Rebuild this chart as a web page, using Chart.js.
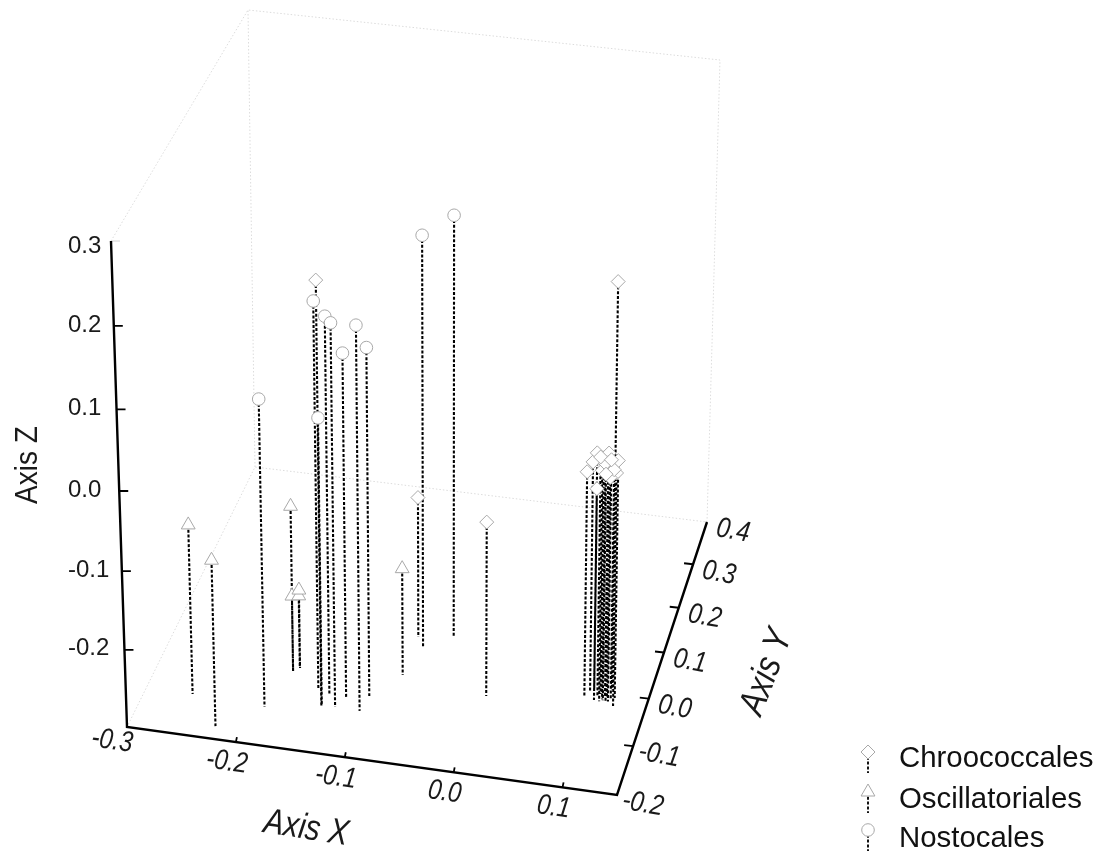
<!DOCTYPE html>
<html><head><meta charset="utf-8">
<style>html,body{margin:0;padding:0;background:#fff}canvas{display:block}</style>
<script src="https://cdn.jsdelivr.net/npm/chart.js@4"></script>
</head><body><canvas id="c" width="1099" height="852"></canvas>
<script>
// ---- data (Axis X, Axis Y, Axis Z) ----
const seriesNames = ['Chroococcales','Oscillatoriales','Nostocales'];
const chrooX = [-0.139,-0.079,0.003,0.114,0.091,0.095,0.101,0.105,0.112,0.110,0.119,0.106,0.120,0.112,0.098,0.116,0.108,0.103,0.114,0.109];
const chrooY = [-0.107,0.065,-0.039,0.008,-0.012,-0.003,-0.018,-0.004,-0.019,-0.009,-0.008,-0.019,-0.025,-0.010,0.003,-0.013,-0.014,-0.010,-0.017,-0.016];
const chrooZ = [0.230,-0.118,-0.078,0.207,-0.016,-0.008,0.012,-0.001,0.014,-0.003,0.000,-0.008,-0.006,-0.021,-0.044,-0.009,-0.002,0.003,0.005,-0.014];
const oscilX = [-0.257,-0.224,-0.178,-0.178,-0.174,-0.173,-0.079];
const oscilY = [-0.116,-0.174,-0.041,-0.041,-0.029,-0.033,-0.019];
const oscilZ = [-0.082,-0.088,-0.087,-0.202,-0.208,-0.198,-0.162];
const nostoX = [-0.189,-0.149,-0.137,-0.127,-0.121,-0.104,-0.101,-0.140,-0.071,-0.047];
const nostoY = [-0.122,-0.069,-0.078,-0.103,-0.080,-0.104,-0.071,-0.100,0.045,0.075];
const nostoZ = [0.088,0.185,0.173,0.179,0.132,0.180,0.137,0.061,0.219,0.232];
const xTicks = [-0.3,-0.2,-0.1,0.0,0.1];
const yTicks = [-0.2,-0.1,0.0,0.1,0.2,0.3,0.4];
const zTicks = [-0.2,-0.1,0.0,0.1,0.2,0.3];
const xRange = [-0.3,0.15], yRange = [-0.2,0.4], zRange = [-0.3,0.3];

// ---- view of the box on the page: 3-D projection frame ----
const cornerA=[127,727],cornerB=[617,795],cornerC=[707,522],cornerD=[255,467];
const cornerA2=[111,241],cornerB2=[624,291],cornerC2=[720,60],cornerD2=[248,10];
const lerp=(p,q,f)=>[p[0]+(q[0]-p[0])*f,p[1]+(q[1]-p[1])*f];
const warp=(u,k)=>u*(1+k)/(1+k*u);
function project(x,y,z){
  const s=(x-xRange[0])/(xRange[1]-xRange[0]);
  const t=warp((y-yRange[0])/(yRange[1]-yRange[0]),.092);
  const w=warp((z-zRange[0])/(zRange[1]-zRange[0]),-.056);
  const f=lerp(lerp(cornerA,cornerB,s),lerp(cornerD,cornerC,s),t);
  const c=lerp(lerp(cornerA2,cornerB2,s),lerp(cornerD2,cornerC2,s),t);
  return lerp(f,c,w);
}
const pt=p=>({x:p[0],y:p[1]});
const GAP={x:null,y:null};
const P3=(x,y,z)=>pt(project(x,y,z));
const xMin=xRange[0],xMax=xRange[1],yMin=yRange[0],yMax=yRange[1],zMin=zRange[0],zMax=zRange[1];

function stems(X,Y,Z){const d=[];X.forEach((v,i)=>{d.push(P3(v,Y[i],Z[i]),P3(v,Y[i],zMin),GAP);});return d;}
function marks(X,Y,Z){return X.map((v,i)=>P3(v,Y[i],Z[i]));}
function lineSet(data,color,width,dash,order){return {type:'scatter',showLine:true,data,borderColor:color,borderWidth:width,borderDash:dash,pointRadius:0,pointHoverRadius:0,spanGaps:false,order,clip:false,tension:0};}
function markSet(data,style,r,order){return {type:'scatter',showLine:false,data,pointStyle:style,pointRadius:r,pointBackgroundColor:'#ffffff',pointBorderColor:'#a8a8a8',pointBorderWidth:1,order,clip:false};}

const wire=[P3(xMin,yMin,zMax),P3(xMin,yMax,zMax),P3(xMax,yMax,zMax),P3(xMax,yMax,zMin),P3(xMin,yMax,zMin),P3(xMin,yMin,zMin),GAP,P3(xMin,yMax,zMin),P3(xMin,yMax,zMax)];
const axes=[P3(xMin,yMin,zMax),P3(xMin,yMin,zMin),P3(xMax,yMin,zMin),P3(xMax,yMax,zMin)];
const tickMarks=[];
function off(p,dx,dy){return {x:p.x+dx,y:p.y+dy};}
xTicks.slice(1).forEach(v=>{const p=P3(v,yMin,zMin);tickMarks.push(p,off(p,1,-5),GAP);});
yTicks.slice(1,-1).forEach(v=>{const p=P3(xMax,v,zMin);tickMarks.push(p,off(p,-9,-1),GAP);});
zTicks.slice(0,-1).forEach(v=>{const p=P3(xMin,yMin,v);tickMarks.push(p,off(p,9,0),GAP);});
const topStub=[P3(xMin,yMin,zMax),off(P3(xMin,yMin,zMax),9,0)];

const DASH=[3,1.8];
const textPlugin={id:'text3d',afterDraw(chart){
  const g=chart.ctx,sx=chart.scales.x,sy=chart.scales.y;
  const at=(p)=>[sx.getPixelForValue(p.x),sy.getPixelForValue(p.y)];
  const put=(txt,p,dx,dy,deg,font,stretch)=>{const a=at(p);g.save();g.translate(a[0]+dx,a[1]+dy);g.rotate(deg*Math.PI/180);g.scale(1,stretch||1);g.font=font;g.fillStyle='#1a1a1a';g.textAlign='center';g.textBaseline='middle';g.fillText(txt,0,0);g.restore();};
  const F="'Liberation Sans',Arial,sans-serif";
  const it='italic 24px '+F, up='24px '+F;
  xTicks.forEach(v=>{const first=v===xMin;put(v.toFixed(1),P3(v,yMin,zMin),first?-15:-9,first?14:20,8,it,1.2);});
  yTicks.forEach(v=>{put(v.toFixed(1),P3(xMax,v,zMin),26,9,10,it,1.2);});
  zTicks.forEach(v=>{const a=at(P3(xMin,yMin,v));g.save();g.font=up;g.fillStyle='#1a1a1a';g.textAlign='left';g.textBaseline='middle';g.fillText(v.toFixed(1),68,a[1]+(v===zMax?5:-1));g.restore();});
  put('Axis X',P3(-0.13,yMin,zMin),-6,76,9,'italic 30px '+F,1.2);
  put('Axis Y',P3(xMax,0.02,zMin),115,-17,-69,'italic 31px '+F,1.2);
  put('Axis Z',P3(xMin,yMin,0.0),-91,-26,-90,'28px '+F,1.15);
  // legend
  const rows=[[752,'rectRot',7,759],[792,'triangle',8,800],[830,'circle',6.3,839]];
  seriesNames.forEach((n,i)=>{const r=rows[i];
    g.save();g.strokeStyle='#111';g.lineWidth=2;g.setLineDash(DASH);g.beginPath();g.moveTo(868,r[0]);g.lineTo(868,r[0]+21);g.stroke();g.restore();
    g.save();g.setLineDash([]);g.fillStyle='#fff';g.strokeStyle='#a8a8a8';g.lineWidth=1;
    Chart.helpers.drawPoint(g,{pointStyle:r[1],radius:r[2],borderWidth:1,rotation:0},868,r[0]);g.restore();
    g.save();g.font='29.4px '+F;g.fillStyle='#111';g.textBaseline='middle';g.textAlign='left';g.fillText(n,899,r[3]);g.restore();
  });
}};

new Chart(document.getElementById('c'),{
  type:'scatter',
  data:{datasets:[
    lineSet(wire,'#dcdcdc',1,[1.5,2],20),
    lineSet(topStub,'#d0d0d0',1,[],20),
    lineSet(axes,'#000000',2.4,[],6),
    lineSet(tickMarks,'#000000',1.8,[],6),
    lineSet(stems(chrooX,chrooY,chrooZ),'#000000',2.1,DASH,5),
    lineSet(stems(oscilX,oscilY,oscilZ),'#000000',2.1,DASH,5),
    lineSet(stems(nostoX,nostoY,nostoZ),'#000000',2.1,DASH,5),
    markSet(marks(chrooX,chrooY,chrooZ),'rectRot',7,1),
    markSet(marks(oscilX,oscilY,oscilZ),'triangle',8,1),
    markSet(marks(nostoX,nostoY,nostoZ),'circle',6.3,1)
  ]},
  options:{
    responsive:false,animation:false,devicePixelRatio:1,
    layout:{padding:0,autoPadding:false},
    plugins:{legend:{display:false},tooltip:{enabled:false},title:{display:false}},
    scales:{
      x:{type:'linear',min:0,max:1099,display:false},
      y:{type:'linear',min:0,max:852,reverse:true,display:false}
    }
  },
  plugins:[textPlugin]
});
</script></body></html>
